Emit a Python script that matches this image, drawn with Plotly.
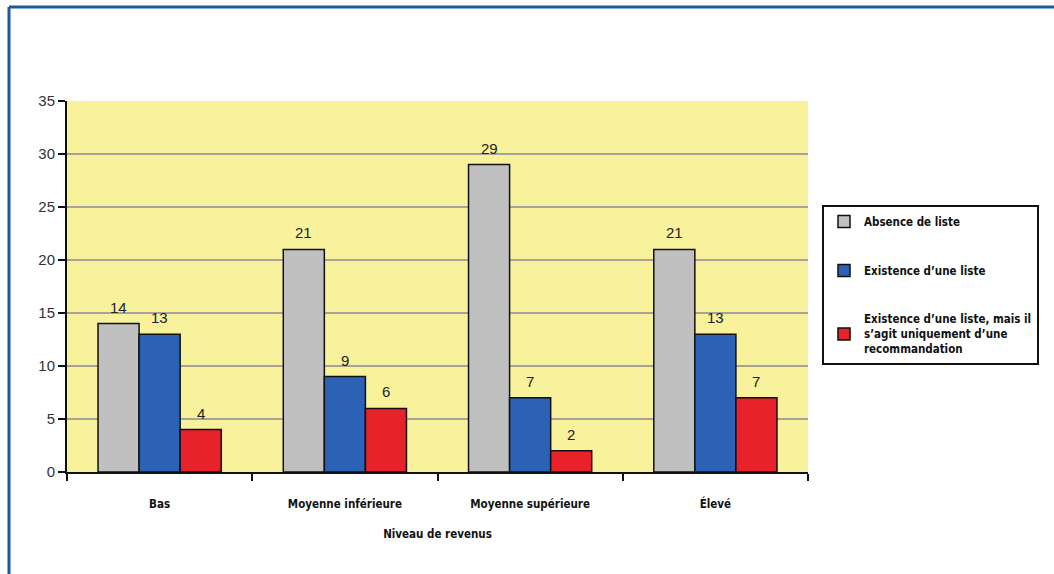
import plotly.graph_objects as go

categories = ["Bas", "Moyenne inférieure", "Moyenne supérieure", "Élevé"]
series_names = [
    "Absence de liste",
    "Existence d’une liste",
    "Existence d’une liste, mais il<br>s’agit uniquement d’une<br>recommandation",
]
absence = [14, 21, 29, 21]
existence = [13, 9, 7, 13]
recommandation = [4, 6, 2, 7]
series_values = [absence, existence, recommandation]
colors = ["#c0c0c0", "#2c62b6", "#e8222a"]
y_ticks = [0, 5, 10, 15, 20, 25, 30, 35]

COND = "Liberation Sans Narrow, DejaVu Sans Condensed, Arial Narrow, sans-serif"
REG = "Liberation Sans, Arial, sans-serif"

W, H = 1054, 574
L, R, T, B = 67, 246, 101, 102
pw = W - L - R
ph = H - T - B

fig = go.Figure()
for i, (name, vals, col) in enumerate(zip(series_names, series_values, colors)):
    fig.add_trace(go.Bar(
        x=categories, y=vals, name="<b>" + name + "</b>",
        marker=dict(color=col, line=dict(color="#111111", width=1.5)),
        legendgroup=f"g{i}",
    ))

bargap = 0.335
cat_px = pw / len(categories)
bar_px = cat_px * (1 - bargap) / 3
annotations = []
for i, vals in enumerate(series_values):
    for c, v in zip(categories, vals):
        annotations.append(dict(
            x=c, y=v, xref="x", yref="y", text=str(v), showarrow=False,
            xshift=(i - 1) * bar_px, yanchor="bottom", yshift=6,
            font=dict(family=REG, size=15, color="#222222"),
        ))

fig.update_layout(
    width=W, height=H,
    margin=dict(l=L, r=R, t=T, b=B, autoexpand=False),
    paper_bgcolor="white",
    plot_bgcolor="#f8f29c",
    barmode="group", bargap=bargap, bargroupgap=0,
    annotations=annotations,
    showlegend=True,
    legend=dict(
        x=(822 - L) / pw, y=(472 - 205) / ph, xanchor="left", yanchor="top",
        bgcolor="white", bordercolor="#111111", borderwidth=2,
        font=dict(family=COND, size=11.5, color="#111111"),
        tracegroupgap=30, itemwidth=30,
        entrywidth=180, entrywidthmode="pixels",
    ),
    xaxis=dict(
        showline=True, linecolor="#111111", linewidth=2,
        ticks="outside", ticklen=7, tickcolor="#111111", tickwidth=1.5,
        tickson="boundaries", ticklabelstandoff=20,
        tickfont=dict(family=COND, size=11.5, color="#111111"),
        tickprefix="<b>", ticksuffix="</b>",
        title=dict(text="<b>Niveau de revenus</b>", standoff=20,
                   font=dict(family=COND, size=11.5, color="#111111")),
        showgrid=False,
    ),
    yaxis=dict(
        range=[0, 35], tickvals=y_ticks,
        showline=True, linecolor="#111111", linewidth=2,
        ticks="outside", ticklen=7, tickcolor="#111111", tickwidth=1.5,
        tickfont=dict(family=REG, size=15, color="#333333"),
        showgrid=True, gridcolor="#a8a39a", gridwidth=1.5,
        zeroline=False,
    ),
    shapes=[
        dict(type="line", xref="paper", yref="paper",
             x0=(9 - L) / pw, x1=(W + 5 - L) / pw,
             y0=(472 - 7) / ph, y1=(472 - 7) / ph,
             line=dict(color="#1d5a9c", width=3)),
        dict(type="line", xref="paper", yref="paper",
             x0=(9 - L) / pw, x1=(9 - L) / pw,
             y0=(472 - 7) / ph, y1=(472 - H - 5) / ph,
             line=dict(color="#1d5a9c", width=3)),
    ],
)

fig.write_html("out.html")
